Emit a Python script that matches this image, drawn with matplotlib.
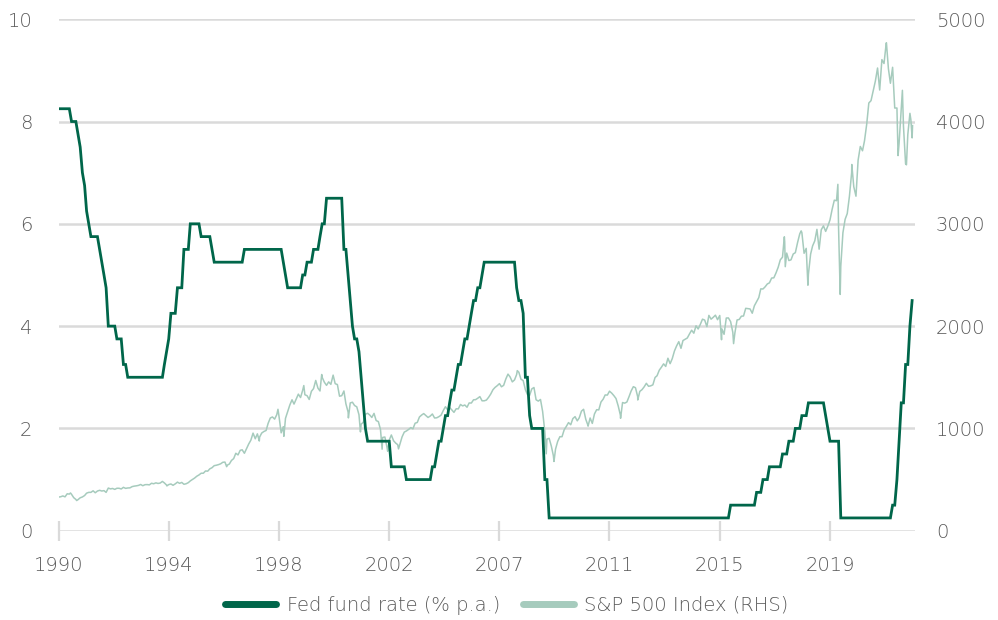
import matplotlib
matplotlib.use("Agg")
import matplotlib.pyplot as plt
import pandas as pd
import numpy as np
from matplotlib.lines import Line2D

plt.rcParams['font.family'] = ['DejaVu Sans']
plt.rcParams['font.weight'] = 'light'

# ---------------- data ----------------
start_month = "1990-01-31"

# Fed fund rate (% p.a.), month-end values, one row per year 1990..2022
fed_rate = [
    8.25, 8.25, 8.25, 8.25, 8.25, 8.25, 8.0, 8.0, 8.0, 7.75, 7.5, 7.0,      # 1990
    6.75, 6.25, 6.0, 5.75, 5.75, 5.75, 5.75, 5.5, 5.25, 5.0, 4.75, 4.0,     # 1991
    4.0, 4.0, 4.0, 3.75, 3.75, 3.75, 3.25, 3.25, 3.0, 3.0, 3.0, 3.0,        # 1992
    3.0, 3.0, 3.0, 3.0, 3.0, 3.0, 3.0, 3.0, 3.0, 3.0, 3.0, 3.0,             # 1993
    3.0, 3.25, 3.5, 3.75, 4.25, 4.25, 4.25, 4.75, 4.75, 4.75, 5.5, 5.5,     # 1994
    5.5, 6.0, 6.0, 6.0, 6.0, 6.0, 5.75, 5.75, 5.75, 5.75, 5.75, 5.5,        # 1995
    5.25, 5.25, 5.25, 5.25, 5.25, 5.25, 5.25, 5.25, 5.25, 5.25, 5.25, 5.25, # 1996
    5.25, 5.25, 5.5, 5.5, 5.5, 5.5, 5.5, 5.5, 5.5, 5.5, 5.5, 5.5,           # 1997
    5.5, 5.5, 5.5, 5.5, 5.5, 5.5, 5.5, 5.5, 5.25, 5.0, 4.75, 4.75,          # 1998
    4.75, 4.75, 4.75, 4.75, 4.75, 5.0, 5.0, 5.25, 5.25, 5.25, 5.5, 5.5,     # 1999
    5.5, 5.75, 6.0, 6.0, 6.5, 6.5, 6.5, 6.5, 6.5, 6.5, 6.5, 6.5,            # 2000
    5.5, 5.5, 5.0, 4.5, 4.0, 3.75, 3.75, 3.5, 3.0, 2.5, 2.0, 1.75,          # 2001
    1.75, 1.75, 1.75, 1.75, 1.75, 1.75, 1.75, 1.75, 1.75, 1.75, 1.25, 1.25, # 2002
    1.25, 1.25, 1.25, 1.25, 1.25, 1.0, 1.0, 1.0, 1.0, 1.0, 1.0, 1.0,        # 2003
    1.0, 1.0, 1.0, 1.0, 1.0, 1.25, 1.25, 1.5, 1.75, 1.75, 2.0, 2.25,        # 2004
    2.25, 2.5, 2.75, 2.75, 3.0, 3.25, 3.25, 3.5, 3.75, 3.75, 4.0, 4.25,     # 2005
    4.5, 4.5, 4.75, 4.75, 5.0, 5.25, 5.25, 5.25, 5.25, 5.25, 5.25, 5.25,    # 2006
    5.25, 5.25, 5.25, 5.25, 5.25, 5.25, 5.25, 5.25, 4.75, 4.5, 4.5, 4.25,   # 2007
    3.0, 3.0, 2.25, 2.0, 2.0, 2.0, 2.0, 2.0, 2.0, 1.0, 1.0, 0.25,           # 2008
    0.25, 0.25, 0.25, 0.25, 0.25, 0.25, 0.25, 0.25, 0.25, 0.25, 0.25, 0.25, # 2009
    0.25, 0.25, 0.25, 0.25, 0.25, 0.25, 0.25, 0.25, 0.25, 0.25, 0.25, 0.25, # 2010
    0.25, 0.25, 0.25, 0.25, 0.25, 0.25, 0.25, 0.25, 0.25, 0.25, 0.25, 0.25, # 2011
    0.25, 0.25, 0.25, 0.25, 0.25, 0.25, 0.25, 0.25, 0.25, 0.25, 0.25, 0.25, # 2012
    0.25, 0.25, 0.25, 0.25, 0.25, 0.25, 0.25, 0.25, 0.25, 0.25, 0.25, 0.25, # 2013
    0.25, 0.25, 0.25, 0.25, 0.25, 0.25, 0.25, 0.25, 0.25, 0.25, 0.25, 0.25, # 2014
    0.25, 0.25, 0.25, 0.25, 0.25, 0.25, 0.25, 0.25, 0.25, 0.25, 0.25, 0.5,  # 2015
    0.5, 0.5, 0.5, 0.5, 0.5, 0.5, 0.5, 0.5, 0.5, 0.5, 0.5, 0.75,            # 2016
    0.75, 0.75, 1.0, 1.0, 1.0, 1.25, 1.25, 1.25, 1.25, 1.25, 1.25, 1.5,     # 2017
    1.5, 1.5, 1.75, 1.75, 1.75, 2.0, 2.0, 2.0, 2.25, 2.25, 2.25, 2.5,       # 2018
    2.5, 2.5, 2.5, 2.5, 2.5, 2.5, 2.5, 2.25, 2.0, 1.75, 1.75, 1.75,         # 2019
    1.75, 1.75, 0.25, 0.25, 0.25, 0.25, 0.25, 0.25, 0.25, 0.25, 0.25, 0.25, # 2020
    0.25, 0.25, 0.25, 0.25, 0.25, 0.25, 0.25, 0.25, 0.25, 0.25, 0.25, 0.25, # 2021
    0.25, 0.25, 0.5, 0.5, 1.0, 1.75, 2.5, 2.5, 3.25, 3.25, 4.0, 4.5,        # 2022
]

# S&P 500 index, month-end closes, one row per year 1990..2022
sp500 = [
    329, 332, 340, 331, 361, 358, 356, 323, 306, 304, 322, 330,             # 1990
    344, 367, 375, 375, 390, 371, 388, 395, 388, 392, 375, 417,             # 1991
    409, 413, 404, 415, 415, 408, 424, 414, 418, 419, 431, 436,             # 1992
    439, 443, 452, 440, 450, 451, 448, 464, 459, 468, 462, 466,             # 1993
    482, 467, 446, 451, 457, 444, 458, 475, 463, 472, 454, 459,             # 1994
    470, 487, 501, 515, 533, 545, 562, 562, 584, 582, 605, 616,             # 1995
    636, 640, 646, 654, 669, 671, 640, 652, 687, 705, 757, 741,             # 1996
    786, 791, 757, 801, 848, 885, 954, 899, 947, 915, 955, 970,             # 1997
    980, 1049, 1102, 1112, 1091, 1134, 1121, 957, 1017, 1099, 1164, 1229,   # 1998
    1280, 1238, 1286, 1335, 1302, 1373, 1329, 1320, 1283, 1363, 1389, 1469, # 1999
    1394, 1366, 1499, 1452, 1421, 1455, 1431, 1518, 1437, 1429, 1315, 1320, # 2000
    1366, 1240, 1160, 1249, 1256, 1224, 1211, 1134, 1041, 1060, 1139, 1148, # 2001
    1130, 1107, 1147, 1077, 1067, 990, 912, 916, 815, 886, 936, 880,        # 2002
    856, 841, 848, 917, 964, 975, 990, 1008, 996, 1051, 1058, 1112,         # 2003
    1131, 1145, 1126, 1107, 1121, 1141, 1102, 1104, 1115, 1130, 1174, 1212, # 2004
    1181, 1204, 1181, 1157, 1192, 1191, 1234, 1220, 1229, 1207, 1249, 1248, # 2005
    1280, 1281, 1295, 1311, 1270, 1270, 1277, 1304, 1336, 1378, 1401, 1418, # 2006
    1438, 1407, 1421, 1482, 1531, 1503, 1455, 1474, 1527, 1549, 1481, 1468, # 2007
    1379, 1331, 1323, 1386, 1400, 1280, 1267, 1283, 1166, 969, 896, 903,    # 2008
    826, 735, 798, 873, 919, 919, 987, 1021, 1057, 1036, 1096, 1115,        # 2009
    1074, 1104, 1169, 1187, 1089, 1031, 1102, 1049, 1141, 1183, 1181, 1258, # 2010
    1286, 1327, 1326, 1364, 1345, 1321, 1292, 1219, 1131, 1253, 1247, 1258, # 2011
    1312, 1366, 1408, 1398, 1310, 1362, 1379, 1407, 1441, 1412, 1416, 1426, # 2012
    1498, 1515, 1569, 1598, 1631, 1606, 1686, 1633, 1682, 1757, 1806, 1848, # 2013
    1783, 1859, 1872, 1884, 1924, 1960, 1931, 2003, 1972, 2018, 2068, 2059, # 2014
    1995, 2105, 2068, 2086, 2107, 2063, 2104, 1972, 1920, 2079, 2080, 2044, # 2015
    1940, 1932, 2060, 2065, 2097, 2099, 2174, 2171, 2168, 2126, 2199, 2239, # 2016
    2279, 2364, 2363, 2384, 2412, 2423, 2470, 2472, 2519, 2575, 2648, 2674, # 2017
    2824, 2714, 2641, 2648, 2705, 2718, 2816, 2902, 2914, 2712, 2760, 2507, # 2018
    2704, 2784, 2834, 2946, 2752, 2942, 2980, 2926, 2977, 3038, 3141, 3231, # 2019
    3226, 2954, 2585, 2912, 3044, 3100, 3271, 3500, 3363, 3270, 3622, 3756, # 2020
    3714, 3811, 3973, 4181, 4204, 4298, 4395, 4523, 4308, 4605, 4567, 4766, # 2021
    4516, 4374, 4530, 4132, 4132, 3785, 4130, 3955, 3586, 3872, 4080, 3840, # 2022
]

# intra-month highs / lows of the S&P 500 visible in the chart
sp500_extra_dates = [
    "1990-07-16", "1990-10-11", "1994-04-04", "1996-07-24", "1997-10-27",
    "1998-07-17", "1998-10-08", "1999-07-16", "2000-03-24", "2000-09-01",
    "2001-04-04", "2001-09-21", "2002-07-23", "2002-10-09", "2003-03-11",
    "2007-10-09", "2008-11-20", "2009-03-09", "2010-07-02", "2011-10-03",
    "2012-06-01", "2015-08-25", "2016-02-11", "2018-01-26", "2018-02-08",
    "2018-09-20", "2018-12-24", "2020-02-19", "2020-03-23", "2020-09-02",
    "2022-01-03", "2022-06-16", "2022-08-16", "2022-10-12", "2022-12-13",
    "2023-01-06",
]
sp500_extra_values = [
    369, 295, 438, 626, 877,
    1187, 923, 1419, 1527, 1521,
    1103, 966, 797, 777, 800,
    1565, 752, 677, 1022, 1099,
    1278, 1867, 1829, 2873, 2581,
    2931, 2400, 3386, 2310, 3580,
    4770, 3667, 4305, 3577, 4019,
    3960,
]

tick_labels = ["1990", "1994", "1998", "2002", "2007", "2011", "2015", "2019"]
tick_month_step = 51

left_ticks = [0, 2, 4, 6, 8, 10]
right_ticks = [0, 1000, 2000, 3000, 4000, 5000]

series_names = ["Fed fund rate (% p.a.)", "S&P 500 Index (RHS)"]

# ---------------- build ----------------
months = pd.date_range(start_month, periods=len(fed_rate), freq="ME")
rate_s = pd.Series(fed_rate, index=months)
sp_s = pd.concat([
    pd.Series(sp500, index=pd.date_range(start_month, periods=len(sp500), freq="ME")),
    pd.Series(sp500_extra_values, index=pd.to_datetime(sp500_extra_dates)),
]).sort_index()

dark = "#00664a"
light = "#a6cbbd"
grid_c = "#dadada"
txt = "#5a5a5a"
fs = 14

fig = plt.figure(figsize=(9.98, 6.2), dpi=100)
ax2 = fig.add_axes([0.0588, 0.144, 0.9168 - 0.0588, 0.969 - 0.144])
ax = ax2.twinx()
ax.yaxis.tick_left()
ax2.yaxis.tick_right()

ax2.plot(sp_s.index, sp_s.values, color=light, lw=1.1, solid_joinstyle="round")
ax.plot(rate_s.index, rate_s.values, color=dark, lw=2.0, solid_joinstyle="miter")

ax.set_ylim(0, 10)
ax2.set_ylim(0, 5000)
ax.set_yticks(left_ticks)
ax2.set_yticks(right_ticks)
ax.set_yticklabels([str(v) for v in left_ticks])
ax2.set_yticklabels([str(v) for v in right_ticks])

xmin = months[0]
xmax = pd.Timestamp("2023-02-09")
ax2.set_xlim(xmin, xmax)
tick_pos = [months[i * tick_month_step] for i in range(len(tick_labels))]
ax2.set_xticks(tick_pos)
ax2.set_xticklabels(tick_labels)

ax2.grid(axis="y", color=grid_c, lw=1.8)
ax2.set_axisbelow(True)

for a in (ax, ax2):
    for s in a.spines.values():
        s.set_visible(False)

ax2.tick_params(axis="x", direction="inout", length=14, width=1.6, color=grid_c,
                pad=11, labelsize=fs, labelcolor=txt)
ax2.tick_params(axis="y", length=0, pad=15, labelsize=fs, labelcolor=txt)
ax.tick_params(axis="y", length=0, pad=19, labelsize=fs, labelcolor=txt)
ax.tick_params(axis="x", length=0, labelbottom=False)

handles = [Line2D([0], [0], color=dark, lw=5, solid_capstyle="round"),
           Line2D([0], [0], color=light, lw=5, solid_capstyle="round")]
leg = fig.legend(handles, series_names, loc="center", bbox_to_anchor=(0.508, 0.024),
                 ncol=2, frameon=False, fontsize=fs, handlelength=2.6,
                 handletextpad=0.55, columnspacing=1.2)
for t in leg.get_texts():
    t.set_color(txt)

fig.savefig("out.png", dpi=100)
